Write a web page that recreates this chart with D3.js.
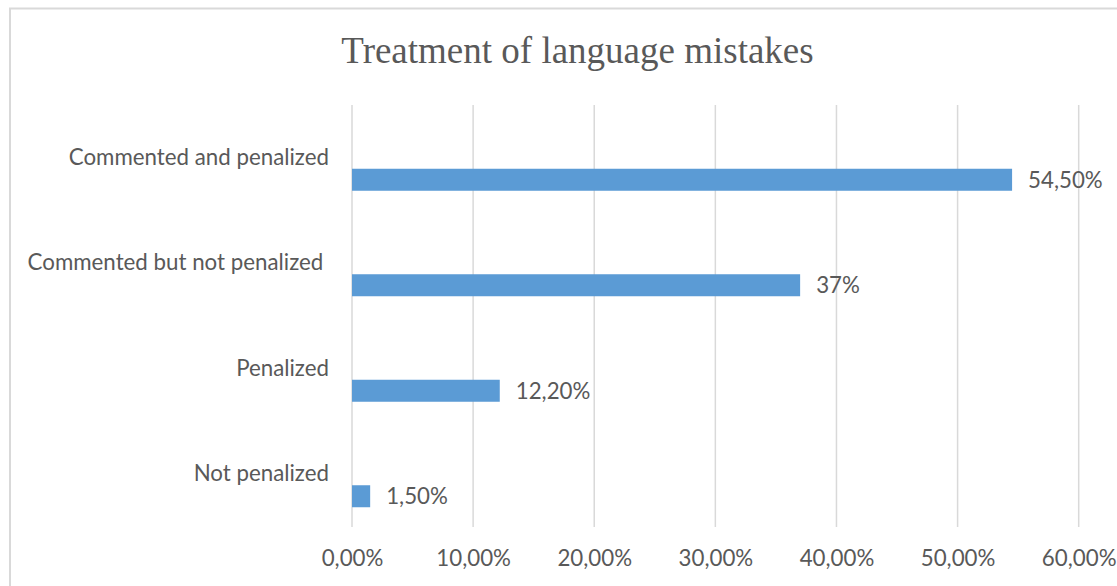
<!DOCTYPE html>
<html>
<head>
<meta charset="utf-8">
<script src="https://cdn.jsdelivr.net/npm/d3@7"></script>
<style>
  html, body { margin: 0; padding: 0; background: #fff; }
  svg { display: block; }
  .cat { white-space: pre; }
</style>
</head>
<body>
<svg id="chart"></svg>
<script>
'use strict';

var categories = ['Commented and penalized', 'Commented but not penalized ', 'Penalized', 'Not penalized'];
var values = [54.5, 37, 12.2, 1.5];
var valueLabels = ['54,50%', '37%', '12,20%', '1,50%'];
var ticks = [0, 10, 20, 30, 40, 50, 60];
var tickLabels = ['0,00%', '10,00%', '20,00%', '30,00%', '40,00%', '50,00%', '60,00%'];
var title = 'Treatment of language mistakes';

var width = 1117;
var height = 586;
var plot = { left: 352, right: 1078.7, top: 105, bottom: 527 };

var textColor = '#595959';
var gridColor = '#d9d9d9';
var barColor = '#5b9bd5';
var sans = 'Lato, "Open Sans", sans-serif';
var fontSize = '22.3px';

var svg = d3.select('#chart')
  .attr('width', width)
  .attr('height', height);

// chart frame (right and bottom edges run off the picture)
svg.append('rect')
  .attr('x', 10)
  .attr('y', 8.5)
  .attr('width', width + 20)
  .attr('height', height + 20)
  .attr('fill', '#fff')
  .attr('stroke', gridColor)
  .attr('stroke-width', 2);

svg.append('text')
  .attr('x', 577.5)
  .attr('y', 63)
  .attr('text-anchor', 'middle')
  .attr('fill', textColor)
  .style('font-family', '"Liberation Serif", "Times New Roman", serif')
  .style('font-size', '37px')
  .text(title);

var x = d3.scaleLinear()
  .domain([0, 60])
  .range([plot.left, plot.right]);

var y = d3.scaleBand()
  .domain(categories)
  .range([plot.top, plot.bottom]);

// bars sit in the lower half of each band (second slot of a two-series cluster)
var barHeight = 22;
var barOffset = 11;

// vertical gridlines
svg.append('g')
  .selectAll('line')
  .data(ticks)
  .join('line')
  .attr('x1', function(d) { return x(d); })
  .attr('x2', function(d) { return x(d); })
  .attr('y1', plot.top)
  .attr('y2', plot.bottom)
  .attr('stroke', gridColor)
  .attr('stroke-width', 1.5);

// x axis labels
var xAxis = d3.axisBottom(x)
  .tickValues(ticks)
  .tickFormat(function(d, i) { return tickLabels[i]; })
  .tickSize(0)
  .tickPadding(0);

var gx = svg.append('g')
  .attr('transform', 'translate(0,566)')
  .call(xAxis);
gx.select('.domain').remove();
gx.selectAll('text')
  .attr('dy', 0)
  .attr('fill', textColor)
  .style('font-family', sans)
  .style('font-size', fontSize);

// category labels
var yAxis = d3.axisLeft(y)
  .tickSize(0)
  .tickPadding(0);

var gy = svg.append('g')
  .attr('transform', 'translate(329,0)')
  .call(yAxis);
gy.select('.domain').remove();
gy.selectAll('text')
  .attr('class', 'cat')
  .attr('fill', textColor)
  .style('font-family', sans)
  .style('font-size', fontSize);

// bars
svg.append('g')
  .selectAll('rect')
  .data(values)
  .join('rect')
  .attr('x', x(0))
  .attr('y', function(d, i) { return y(categories[i]) + y.bandwidth() / 2 + barOffset; })
  .attr('width', function(d) { return x(d) - x(0); })
  .attr('height', barHeight)
  .attr('fill', barColor);

// value labels
svg.append('g')
  .selectAll('text')
  .data(values)
  .join('text')
  .attr('x', function(d) { return x(d) + 16; })
  .attr('y', function(d, i) { return y(categories[i]) + y.bandwidth() / 2 + barOffset + barHeight / 2; })
  .attr('dy', '0.35em')
  .attr('fill', textColor)
  .style('font-family', sans)
  .style('font-size', fontSize)
  .text(function(d, i) { return valueLabels[i]; });
</script>
</body>
</html>
